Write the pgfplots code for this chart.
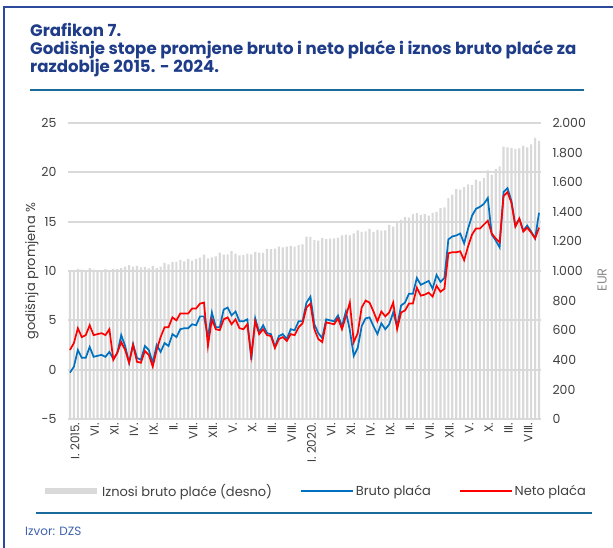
\documentclass[border=0pt]{standalone}
\usepackage{fontspec}
\setmainfont{Poppins}
\usepackage{pgfplots}
\usepackage{pgfplotstable}
\pgfplotsset{compat=1.18}

\definecolor{titlecol}{HTML}{1F3C88}
\definecolor{bordercol}{HTML}{2B4A9B}
\definecolor{rulecol}{HTML}{1B6A9C}
\definecolor{bluecol}{HTML}{0070C0}
\definecolor{redcol}{HTML}{FF0000}
\definecolor{barcol}{HTML}{D9D9D9}
\definecolor{tickcol}{HTML}{404040}
\definecolor{eurcol}{HTML}{8C8C8C}
\definecolor{srccol}{HTML}{3F62AE}

% monthly data, i = 0 is I. 2015.
\pgfplotstableread{
i bruto neto eur
0 -0.3 2.0 1005
1 0.3 2.7 1000
2 2.0 4.2 1015
3 1.2 3.3 1010
4 1.2 3.5 1005
5 2.3 4.5 1020
6 1.3 3.5 1010
7 1.4 3.6 1005
8 1.5 3.7 1000
9 1.3 3.5 1012
10 1.8 4.1 1003
11 1.1 1.0 1015
12 1.7 1.7 1012
13 3.5 2.8 1020
14 2.4 2.0 1030
15 0.7 0.7 1040
16 2.6 2.5 1030
17 1.2 0.8 1035
18 1.0 0.7 1025
19 2.4 1.9 1028
20 2.0 1.5 1018
21 0.7 0.3 1035
22 2.5 2.0 1020
23 1.8 3.3 1030
24 2.7 4.3 1055
25 2.4 4.3 1045
26 3.6 5.3 1060
27 3.3 5.0 1062
28 4.1 5.7 1075
29 4.2 5.7 1065
30 4.2 5.7 1080
31 4.6 6.2 1070
32 4.5 6.2 1082
33 5.4 6.7 1090
34 5.4 6.8 1110
35 3.3 2.4 1085
36 5.8 5.1 1092
37 4.3 4.1 1098
38 4.3 4.0 1125
39 6.1 5.1 1110
40 6.3 5.3 1112
41 5.5 4.6 1135
42 5.9 5.1 1118
43 4.9 4.2 1105
44 4.9 4.1 1108
45 5.1 4.6 1118
46 1.0 1.4 1112
47 5.2 4.9 1128
48 3.8 3.6 1125
49 4.5 4.1 1122
50 3.7 3.5 1150
51 3.6 3.4 1148
52 2.3 2.2 1152
53 3.4 3.1 1165
54 3.6 3.3 1160
55 3.1 2.9 1165
56 4.1 3.6 1170
57 4.0 3.5 1165
58 4.9 4.3 1175
59 4.9 4.7 1180
60 6.8 6.3 1233
61 7.4 6.7 1230
62 4.6 4.1 1210
63 3.7 3.1 1205
64 3.2 2.8 1222
65 5.1 4.8 1215
66 5.0 4.7 1218
67 4.9 4.6 1220
68 5.5 5.2 1226
69 4.4 4.1 1240
70 5.9 5.4 1245
71 4.0 6.8 1240
72 1.4 2.8 1255
73 2.2 3.7 1275
74 4.4 6.3 1265
75 5.2 7.0 1268
76 5.3 6.8 1285
77 4.4 5.9 1265
78 3.6 4.9 1278
79 4.7 5.9 1272
80 4.1 5.4 1275
81 4.6 5.8 1312
82 5.8 6.8 1300
83 4.4 4.1 1335
84 6.5 5.8 1345
85 6.8 6.0 1365
86 7.7 6.7 1360
87 7.7 6.7 1384
88 9.3 8.3 1391
89 8.6 7.5 1380
90 8.8 7.6 1385
91 9.0 7.8 1375
92 8.2 7.4 1392
93 9.6 8.5 1400
94 8.9 7.9 1425
95 9.3 8.2 1430
96 13.2 11.8 1493
97 13.5 11.9 1516
98 13.6 11.9 1553
99 13.8 12.0 1550
100 12.8 11.1 1566
101 14.3 12.5 1586
102 15.6 13.7 1580
103 16.3 14.3 1617
104 16.5 14.3 1605
105 16.8 14.7 1628
106 17.4 15.1 1680
107 13.7 13.8 1650
108 13.1 13.3 1689
109 12.4 12.9 1707
110 18.0 17.6 1840
111 18.4 18.0 1835
112 17.1 16.9 1830
113 14.6 14.5 1825
114 15.3 15.3 1828
115 14.1 14.0 1845
116 14.6 14.4 1835
117 14.0 13.9 1855
118 13.3 13.3 1900
119 15.9 14.4 1880
}\placedata

\begin{document}
\begin{tikzpicture}[x=1pt,y=1pt]
\path[use as bounding box] (0,0) rectangle (613,-548);
% frame and title
\draw[bordercol, line width=2pt] (4,-548) -- (4,-7) -- (613,-7);
\node[anchor=base west, inner sep=0pt, text=titlecol, font=\fontsize{16.6}{18}\selectfont\bfseries] at (30,-37) {Grafikon 7.};
\node[anchor=base west, inner sep=0pt, text=titlecol, font=\fontsize{16.6}{18}\selectfont\bfseries] at (30,-55) {Godišnje stope promjene bruto i neto plaće i iznos bruto plaće za};
\node[anchor=base west, inner sep=0pt, text=titlecol, font=\fontsize{16.6}{18}\selectfont\bfseries] at (30,-73) {razdoblje 2015. - 2024.};
\draw[rulecol, line width=1.5pt] (30,-90) -- (584,-90);

% bars, right axis
\begin{axis}[
  at={(68pt,-419pt)}, anchor=south west,
  scale only axis, width=473pt, height=296pt,
  xmin=-0.5, xmax=119.5, ymin=0, ymax=2000,
  ybar, bar width=0.55,
  hide x axis,
  axis y line*=right,
  axis line style={draw=none},
  major tick length=0pt,
  ytick={0,200,...,2000},
  /pgf/number format/1000 sep={.},
  /pgf/number format/assume math mode=true,
  yticklabel style={font=\fontsize{12.5}{14}\selectfont, text=tickcol, anchor=west, xshift=8pt},
  ylabel={EUR},
  ylabel style={at={(axis description cs:1.129,0.47)}, anchor=center, rotate=0, font=\fontsize{13}{15}\selectfont, text=eurcol},
]
\addplot[fill=barcol, draw=none] table[x=i, y=eur] {\placedata};
\end{axis}

% growth rates, left axis
\begin{axis}[
  at={(68pt,-419pt)}, anchor=south west,
  scale only axis, width=473pt, height=296pt,
  xmin=-0.5, xmax=119.5, ymin=-5, ymax=25,
  axis line style={draw=none},
  major tick length=0pt,
  ytick={-5,0,...,25},
  ymajorgrids,
  grid style={barcol, line width=1.8pt},
  xtick={0,5,...,115},
  xticklabels={I. 2015.,VI.,XI.,IV.,IX.,II.,VII.,XII.,V.,X.,III.,VIII.,I. 2020.,VI.,XI.,IV.,IX.,II.,VII.,XII.,V.,X.,III.,VIII.},
  xticklabel style={rotate=90, anchor=east, yshift=-5pt, font=\fontsize{12}{14}\selectfont, text=tickcol},
  /pgf/number format/assume math mode=true,
  yticklabel style={font=\fontsize{12.5}{14}\selectfont, text=tickcol, xshift=-8pt},
  ylabel={godišnja promjena \%},
  ylabel style={at={(axis description cs:-0.076,0.5)}, anchor=center, font=\fontsize{13}{15}\selectfont, text=tickcol},
  legend columns=3,
  legend image code/.code={\draw[#1] (0pt,0pt) -- (52pt,0pt);},
  legend style={at={(axis description cs:-0.055,-0.243)}, anchor=west, draw=none, fill=none, inner sep=0pt,
    font=\fontsize{13}{15}\selectfont, text=tickcol,
    /tikz/every even column/.append style={column sep=26pt}},
]
\addlegendimage{barcol, line width=6pt}
\addlegendentry{Iznosi bruto plaće (desno)}
\addplot[bluecol, line width=1.7pt, mark=none] table[x=i, y=bruto] {\placedata};
\addlegendentry{Bruto plaća}
\addplot[redcol, line width=1.7pt, mark=none] table[x=i, y=neto] {\placedata};
\addlegendentry{Neto plaća}
\end{axis}

\draw[rulecol, line width=2pt] (36,-513) -- (592,-513);
\node[anchor=base west, inner sep=0pt, text=srccol, font=\fontsize{12}{14}\selectfont] at (25,-535) {Izvor: DZS};
\end{tikzpicture}
\end{document}
